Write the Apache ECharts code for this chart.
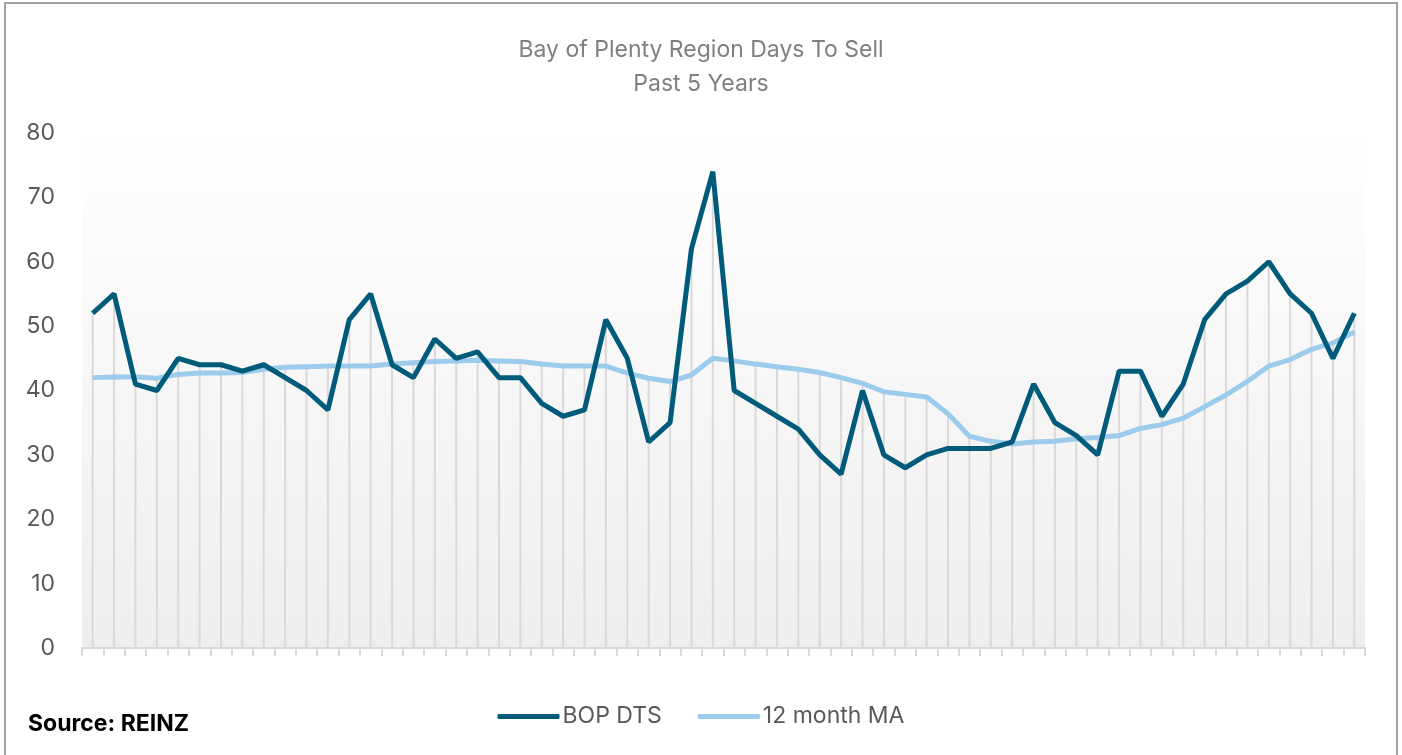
<!DOCTYPE html>
<html>
<head>
<meta charset="utf-8">
<title>Bay of Plenty Region Days To Sell</title>
<script src="https://cdn.jsdelivr.net/npm/echarts@6/dist/echarts.min.js"></script>
<style>
  html, body { margin: 0; padding: 0; background: #fff; }
  #dtsChart { width: 1402px; height: 755px; }
</style>
</head>
<body>
<div id="dtsChart"></div>
<script>
// monthly points, past 5 years (60 months)
var months = [];
for (var m = 0; m < 60; m++) { months.push('M' + (m + 1)); }

var bopDts = [52, 55, 41, 40, 45, 44, 44, 43, 44, 42, 40, 37,
              51, 55, 44, 42, 48, 45, 46, 42, 42, 38, 36, 37,
              51, 45, 32, 35, 62, 74, 40, 38, 36, 34, 30, 27,
              40, 30, 28, 30, 31, 31, 31, 32, 41, 35, 33, 30,
              43, 43, 36, 41, 51, 55, 57, 60, 55, 52, 45, 52];

var movingAvg = [42.0, 42.1, 42.1, 41.9, 42.5, 42.7, 42.7, 42.8, 43.3, 43.6, 43.7, 43.8,
                 43.8, 43.8, 44.1, 44.3, 44.5, 44.6, 44.7, 44.6, 44.5, 44.1, 43.8, 43.8,
                 43.8, 42.7, 41.9, 41.4, 42.4, 45.0, 44.6, 44.1, 43.7, 43.3, 42.8, 42.0,
                 41.1, 39.8, 39.4, 39.0, 36.4, 32.9, 32.1, 31.7, 32.0, 32.1, 32.5, 32.7,
                 33.0, 34.1, 34.7, 35.7, 37.5, 39.3, 41.4, 43.8, 44.8, 46.4, 47.4, 49.1];

// drop lines run from the higher of the two series down to the axis
var dropLines = bopDts.map(function (v, i) { return Math.max(v, movingAvg[i]); });

var dtsChart = echarts.init(document.getElementById('dtsChart'));

function dtsOption() {
    return {
        animation: false,
        textStyle: { fontFamily: 'Inter, "Noto Sans", sans-serif' },
        title: {
            text: 'Bay of Plenty Region Days To Sell\nPast 5 Years',
            left: 'center',
            top: 28,
            textStyle: {
                fontSize: 23,
                fontWeight: 'normal',
                color: '#7f7f7f',
                lineHeight: 34
            }
        },
        legend: {
            data: ['BOP DTS', '12 month MA'],
            left: 'center',
            top: 700,
            icon: 'roundRect',
            itemWidth: 62,
            itemHeight: 5,
            itemGap: 36,
            textStyle: { fontSize: 23, color: '#595959', padding: [0, 0, 0, -2] }
        },
        grid: {
            left: 82,
            right: 37,
            top: 133,
            bottom: 107,
            show: true,
            borderWidth: 0,
            backgroundColor: new echarts.graphic.LinearGradient(0, 0, 0, 1, [
                { offset: 0, color: '#ffffff' },
                { offset: 1, color: '#eeeeee' }
            ])
        },
        xAxis: {
            type: 'category',
            data: months,
            boundaryGap: true,
            axisLine: { lineStyle: { color: '#d9d9d9', width: 2 } },
            axisTick: { show: true, interval: 0, length: 8, lineStyle: { color: '#d9d9d9', width: 2 } },
            axisLabel: { show: false, interval: 0 },
            splitLine: { show: false }
        },
        yAxis: {
            type: 'value',
            min: 0,
            max: 80,
            interval: 10,
            axisLine: { show: false },
            axisTick: { show: false },
            splitLine: { show: false },
            axisLabel: { fontSize: 23, color: '#595959', margin: 27 }
        },
        graphic: [{
            type: 'rect',
            silent: true,
            shape: { x: 5, y: 3, width: 1392, height: 800 },
            style: { fill: 'none', stroke: '#a0a0a0', lineWidth: 2 }
        }, {
            type: 'text',
            left: 28,
            top: 713,
            style: {
                text: 'Source: REINZ',
                fontSize: 23,
                fontWeight: 'bold',
                fill: '#000',
                fontFamily: 'Inter, "Noto Sans", sans-serif'
            }
        }],
        series: [{
            name: 'drop',
            type: 'bar',
            data: dropLines,
            barWidth: 2,
            silent: true,
            z: 1,
            itemStyle: { color: '#d9d9d9' }
        }, {
            name: 'BOP DTS',
            type: 'line',
            data: bopDts,
            showSymbol: false,
            z: 4,
            lineStyle: { color: '#005a7a', width: 5 },
            itemStyle: { color: '#005a7a' }
        }, {
            name: '12 month MA',
            type: 'line',
            data: movingAvg,
            showSymbol: false,
            z: 3,
            lineStyle: { color: '#9dcbeb', width: 5 },
            itemStyle: { color: '#9dcbeb' }
        }]
    };
}

dtsChart.setOption(dtsOption());
</script>
</body>
</html>
